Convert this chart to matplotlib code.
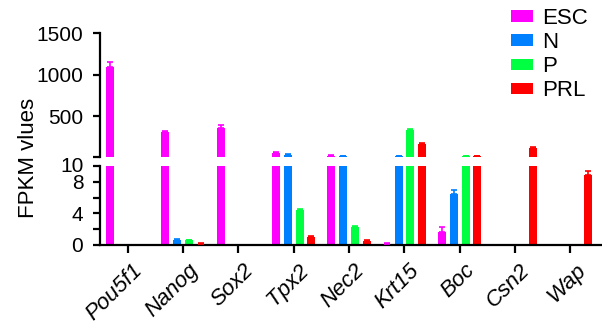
import numpy as np
import matplotlib
matplotlib.use("Agg")
import matplotlib.pyplot as plt
import matplotlib.transforms as mtransforms
from matplotlib.patches import Patch

plt.rcParams['font.family'] = ['Liberation Sans', 'DejaVu Sans']

genes = ["Pou5f1", "Nanog", "Sox2", "Tpx2", "Nec2", "Krt15", "Boc", "Csn2", "Wap"]
groups = ["ESC", "N", "P", "PRL"]
colors = ["#FF00FF", "#0080FF", "#00FF40", "#FF0000"]

esc = [1090, 310, 360, 50, 22, 0.15, 1.6, 0, 0]
esc_err = [60, 10, 35, 12, 3, 0.05, 0.7, 0, 0]
n_vals = [0, 0.6, 0, 35, 15, 15, 6.5, 0, 0]
n_err = [0, 0.1, 0, 3, 3, 2, 0.5, 0, 0]
p_vals = [0, 0.6, 0, 4.4, 2.3, 330, 15, 0.1, 0.1]
p_err = [0, 0.05, 0, 0.15, 0.15, 10, 2, 0, 0]
prl_vals = [0, 0.15, 0, 1.0, 0.5, 165, 20, 110, 8.8]
prl_err = [0, 0.05, 0, 0.15, 0.1, 12, 4, 18, 0.6]

series = [(esc, esc_err), (n_vals, n_err), (p_vals, p_err), (prl_vals, prl_err)]
BREAK = 10

W, H = 602, 324
fig = plt.figure(figsize=(W / 100, H / 100), dpi=100)

left = 100 / W
right = 1.0
ax_top = fig.add_axes([left, (H - 156.7) / H, right - left, (156.7 - 33.3) / H])
ax_bot = fig.add_axes([left, (H - 245) / H, right - left, (245 - 166) / H])

x = np.arange(len(genes))
step = 0.213
width = 0.145
offsets = np.array([-1.5, -0.5, 0.5, 1.5]) * step

for ax, is_top in ((ax_top, True), (ax_bot, False)):
    for (vals, errs), off, c in zip(series, offsets, colors):
        vals = np.asarray(vals, float)
        errs = np.asarray(errs, float)
        ax.bar(x + off, vals, width=width, color=c, edgecolor='none', zorder=2)
        # error whiskers only in the panel where the bar ends
        sel = (errs > 0) & ((vals >= BREAK) if is_top else (vals < BREAK))
        if sel.any():
            ax.errorbar((x + off)[sel], vals[sel],
                        yerr=[np.zeros(sel.sum()), errs[sel]], fmt='none',
                        ecolor=c, elinewidth=1.2, capsize=2, capthick=1.2, zorder=3)
    ax.set_xlim(-0.5, 8.57)
    for s in ("top", "right"):
        ax.spines[s].set_visible(False)
    ax.spines["left"].set_linewidth(1.6)
    ax.tick_params(axis='y', direction='out', length=5, width=1.6, labelsize=15, pad=7)

ax_top.set_ylim(BREAK, 1500)
ax_top.set_yticks([10, 500, 1000, 1500])
ax_top.set_yticklabels(["", "500", "1000", "1500"])
ax_top.spines["bottom"].set_visible(False)
ax_top.set_xticks([])

ax_bot.set_ylim(0, BREAK)
ax_bot.set_yticks([0, 2, 4, 6, 8, 10])
ax_bot.set_yticklabels(["0", "", "4", "", "8", "10"])
ax_bot.spines["bottom"].set_linewidth(1.6)
# keep the "10" label clear of the "8" just below it
lift = mtransforms.ScaledTranslation(0, 2 / 100, fig.dpi_scale_trans)
ten = ax_bot.get_yticklabels()[-1]
ten.set_transform(ten.get_transform() + lift)

ax_bot.set_xticks(x)
ax_bot.set_xticklabels(genes, rotation=45, ha='right', va='center', rotation_mode='anchor',
                       fontstyle='italic', fontsize=16)
ax_bot.tick_params(axis='x', direction='out', length=6, width=1.6, pad=10)
shift = mtransforms.ScaledTranslation(12 / 100, 0, fig.dpi_scale_trans)
for lbl in ax_bot.get_xticklabels():
    lbl.set_transform(lbl.get_transform() + shift)

fig.text(28 / W, 1 - 158 / H, "FPKM vlues", rotation=90, ha='center', va='center',
         fontsize=16)

handles = [Patch(facecolor=c, edgecolor='none') for c in colors]
fig.legend(handles, groups, loc='upper left', bbox_to_anchor=(502 / W, 1 + 1 / H),
           frameon=False, fontsize=16, handlelength=1.0, handleheight=0.4,
           handletextpad=0.4, labelspacing=0.14, borderaxespad=0)

fig.savefig("out.png", dpi=100)
